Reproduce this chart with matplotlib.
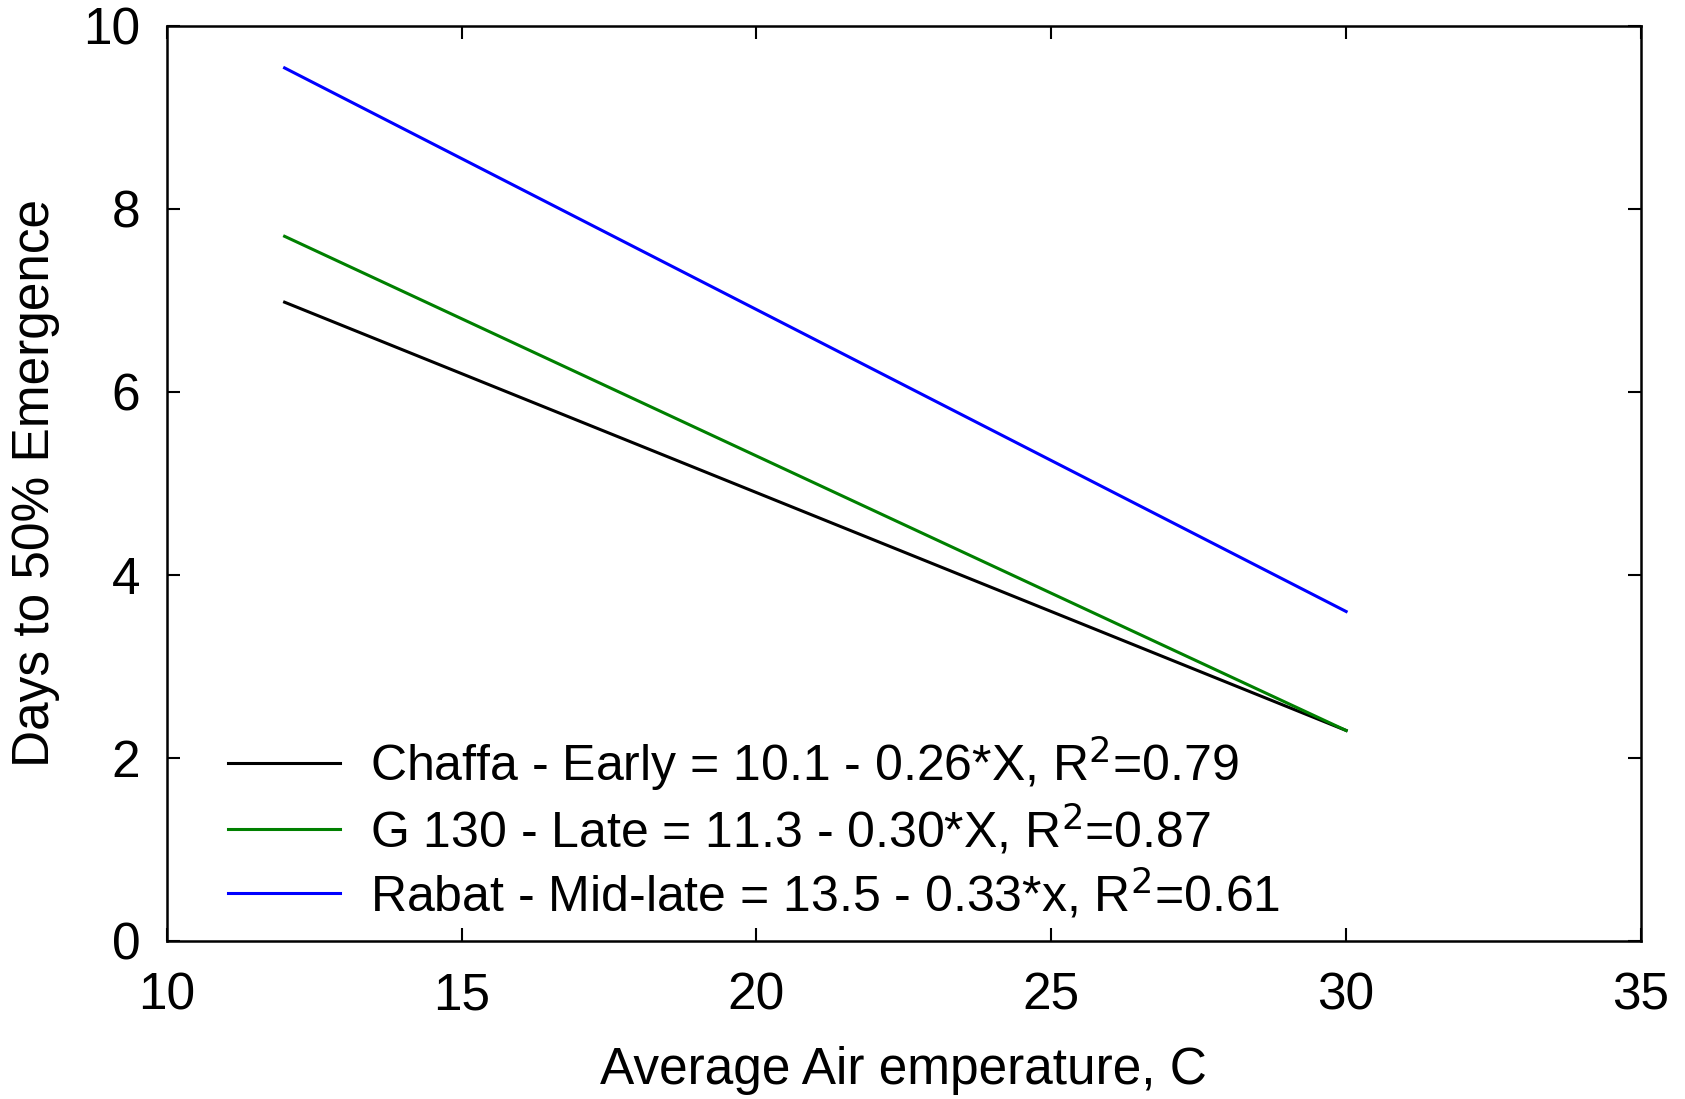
import numpy as np
import matplotlib.pyplot as plt

plt.rcParams['font.family'] = ['Liberation Sans', 'DejaVu Sans']

# end points of the fitted lines
temps = [12, 30]
chaffa = [6.98, 2.30]
g130 = [7.70, 2.30]
rabat = [9.54, 3.60]

labels = [
    'Chaffa - Early = 10.1 - 0.26*X, R$^2$=0.79',
    'G 130 - Late = 11.3 - 0.30*X, R$^2$=0.87',
    'Rabat - Mid-late = 13.5 - 0.33*x, R$^2$=0.61',
]
colors = ['black', 'green', 'blue']

fig = plt.figure(figsize=(16.85, 10.99), dpi=100)
ax = fig.add_axes([0.0989, 0.1438, 0.875, 0.8327])

for ys, lab, c in zip([chaffa, g130, rabat], labels, colors):
    ax.plot(temps, ys, color=c, linewidth=2.2, label=lab)

ax.set_xlim(10, 35)
ax.set_ylim(0, 10)
ax.set_xticks([10, 15, 20, 25, 30, 35])
ax.set_yticks([0, 2, 4, 6, 8, 10])
ax.tick_params(direction='in', length=9.5, width=1.5, top=True, right=True,
               labelsize=37)
ax.tick_params(axis='x', pad=22)
ax.tick_params(axis='y', pad=19)
for s in ax.spines.values():
    s.set_linewidth(1.8)

ax.set_xlabel('Average Air emperature, C', fontsize=37, labelpad=18)
ax.set_ylabel('Days to 50% Emergence', fontsize=37, labelpad=17)

ax.legend(loc='lower left', bbox_to_anchor=(0.028, 0.0), frameon=False,
          borderaxespad=0, fontsize=36, handlelength=2.24, handletextpad=0.6,
          labelspacing=0.18)

fig.savefig('out.png', dpi=100)
